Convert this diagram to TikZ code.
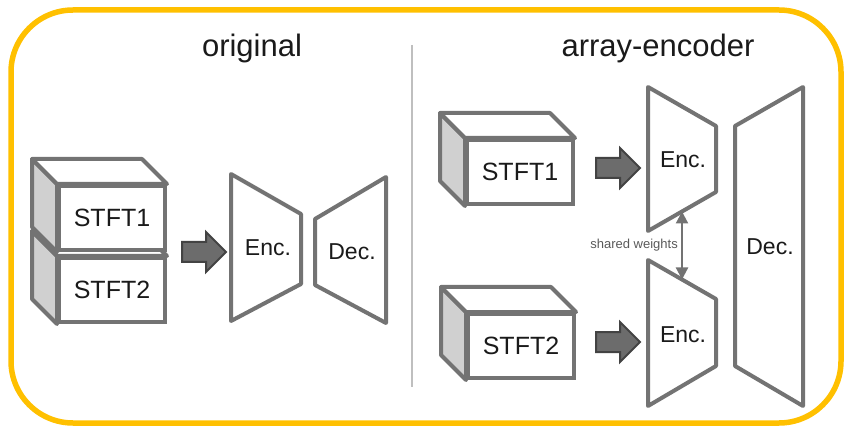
\documentclass[tikz,border=0pt]{standalone}
\usepackage{fontspec}
\setmainfont{Liberation Sans}
\usepackage{tikz}
\usetikzlibrary{calc}
\usetikzlibrary{arrows.meta}
\usetikzlibrary{shapes.arrows}
\usetikzlibrary{positioning}
\usepackage{xcolor}

\definecolor{frame}{HTML}{FFC000}
\definecolor{edge}{HTML}{737373}
\definecolor{side}{HTML}{D0D0D0}
\definecolor{arrfill}{HTML}{6C6C6C}
\definecolor{arrdraw}{HTML}{434343}
\definecolor{ink}{HTML}{1A1A1A}

\tikzset{
  front/.style={draw=edge, fill=white, line width=4pt, inner sep=0pt,
    minimum width=106pt, minimum height=64pt, text=ink,
    font=\fontsize{25}{30}\selectfont},
  face/.style={draw=edge, line width=4pt, line join=round},
  block/.style={draw=edge, fill=white, line width=4pt, line join=round},
  lbl/.style={text=ink, inner sep=0pt, font=\fontsize{23}{28}\selectfont},
  flow/.style={single arrow, fill=arrfill, draw=arrdraw, line width=2pt,
    minimum height=44pt, inner xsep=0pt, inner ysep=9pt,
    single arrow head extend=10pt, single arrow head indent=0pt},
  title/.style={text=ink, inner sep=0pt, anchor=base,
    font=\fontsize{31}{36}\selectfont},
}

\begin{document}
\begin{tikzpicture}[x=1pt, y=-1pt]
\useasboundingbox (0,0) rectangle (845,427);

\draw[frame, line width=5.5pt, rounded corners=62pt] (11,10) rectangle (841,423);
\draw[color=black!25, line width=1.5pt] (412,45) -- (412,387);

\node[title] (orig) at (252,57) {original};
\node[title] (arr) at (658,57) {array-encoder};

\foreach \name/\pos/\txt in {sl2/{(112,290)}/STFT2, sl1/{(112,218)}/STFT1,
                             sr1/{(520,172)}/STFT1, sr2/{(521,346)}/STFT2} {
  \node[front] (\name) at \pos {\txt};
  \draw[face, fill=side] (\name.north west) -- ++(-25,-25)
     -- ([shift={(-25,-25)}]\name.south west) -- (\name.south west) -- cycle;
  \draw[face, fill=white] (\name.north west) -- ++(-25,-25)
     -- ([shift={(-25,-25)}]\name.north east) -- (\name.north east) -- cycle;
}

\node[flow] (al) at (199,252) {};
\node[flow] (ar1) at (613,168) {};
\node[flow] (ar2) at (613,342) {};

% original
\draw[block] (231,174) -- (301,214) -- (301,284) -- (231,321) -- cycle;
\draw[block] (315,219) -- (386,177) -- (386,323) -- (315,285) -- cycle;
\node[lbl] (encl) at (268,248) {Enc.};
\node[lbl] (decl) at (352,252) {Dec.};

% array-encoder
\draw[block] (648,87) -- (716,126) -- (716,192)
   -- coordinate[pos=.5] (eup) (648,231) -- cycle;
\draw[block] (648,260) -- coordinate[pos=.5] (elo) (716,299)
   -- (716,366) -- (648,406) -- cycle;
\draw[block] (735,126) -- (803,87) -- (803,406) -- (735,366) -- cycle;
\node[lbl] (enc1) at (683,160) {Enc.};
\node[lbl] (enc2) at (683,335) {Enc.};
\node[lbl] (decr) at (770,247) {Dec.};

\draw[edge, line width=2.2pt, {Triangle[length=12pt,width=12pt]}-{Triangle[length=12pt,width=12pt]}]
  (eup) -- (elo);
\node[text=black!65, inner sep=0pt, anchor=base east,
  font=\fontsize{13}{15}\selectfont] (sw) at (678,249) {shared weights};

\end{tikzpicture}
\end{document}
